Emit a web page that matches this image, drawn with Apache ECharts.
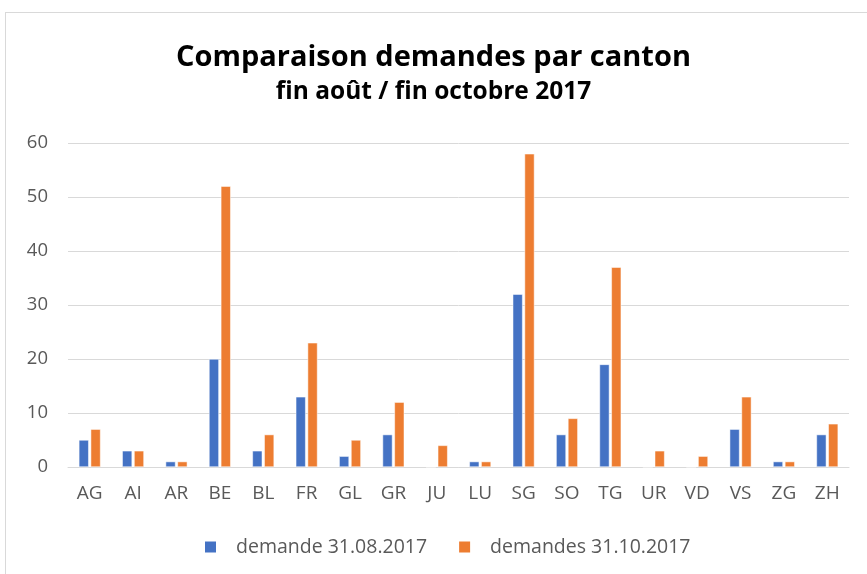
<!DOCTYPE html>
<html>
<head>
<meta charset="utf-8">
<script src="https://cdn.jsdelivr.net/npm/echarts@6/dist/echarts.min.js"></script>
<style>
  html, body { margin: 0; padding: 0; background: #fff; }
  #frame {
    position: absolute; left: 5px; top: 12px; width: 870px; height: 570px;
    border-left: 1px solid #d9d9d9; border-top: 1px solid #d9d9d9;
  }
  #chart { position: absolute; left: 0; top: 0; width: 867px; height: 574px; }
</style>
</head>
<body>
<div id="frame"></div>
<div id="chart"></div>
<script>
const cantons = ['AG', 'AI', 'AR', 'BE', 'BL', 'FR', 'GL', 'GR', 'JU', 'LU', 'SG', 'SO', 'TG', 'UR', 'VD', 'VS', 'ZG', 'ZH'];
const demandesAout = [5, 3, 1, 20, 3, 13, 2, 6, 0, 1, 32, 6, 19, 0, 0, 7, 1, 6];
const demandesOctobre = [7, 3, 1, 52, 6, 23, 5, 12, 4, 1, 58, 9, 37, 3, 2, 13, 1, 8];
const seriesNames = ['demande 31.08.2017', 'demandes 31.10.2017'];
const yTicks = { min: 0, max: 60, interval: 10 };

const font = '"Open Sans", sans-serif';
const grey = '#595959';

const chart = echarts.init(document.getElementById('chart'));

chart.setOption({
  animation: false,
  textStyle: { fontFamily: font },
  title: [
    {
      text: 'Comparaison demandes par canton',
      left: 'center',
      top: 43,
      padding: 0,
      textStyle: { fontFamily: font, fontSize: 29, fontWeight: 'bold', color: '#000' }
    },
    {
      text: 'fin août / fin octobre 2017',
      left: 'center',
      top: 80,
      padding: 0,
      textStyle: { fontFamily: font, fontSize: 24.5, fontWeight: 'bold', color: '#000' }
    }
  ],
  legend: {
    left: 203,
    top: 537,
    padding: 0,
    icon: 'rect',
    itemWidth: 13,
    itemHeight: 13,
    itemGap: 30,
    textStyle: { fontFamily: font, fontSize: 19.5, color: grey, padding: [0, 0, 0, 14] },
    data: seriesNames
  },
  grid: { left: 68, right: 18, top: 143, bottom: 107 },
  xAxis: {
    type: 'category',
    data: cantons,
    axisTick: { show: false },
    axisLine: { lineStyle: { color: '#d9d9d9' } },
    axisLabel: { color: grey, fontSize: 19, margin: 17 }
  },
  yAxis: {
    type: 'value',
    min: yTicks.min,
    max: yTicks.max,
    interval: yTicks.interval,
    axisLabel: { color: grey, fontSize: 18.5, margin: 20 },
    splitLine: { lineStyle: { color: '#d9d9d9' } }
  },
  series: [
    {
      name: seriesNames[0],
      type: 'bar',
      data: demandesAout,
      barGap: '20%',
      barCategoryGap: '50%',
      itemStyle: { color: '#4472C4', borderColor: '#fff', borderWidth: 0.5 }
    },
    {
      name: seriesNames[1],
      type: 'bar',
      data: demandesOctobre,
      itemStyle: { color: '#ED7D31', borderColor: '#fff', borderWidth: 0.5 }
    }
  ]
});
</script>
</body>
</html>
